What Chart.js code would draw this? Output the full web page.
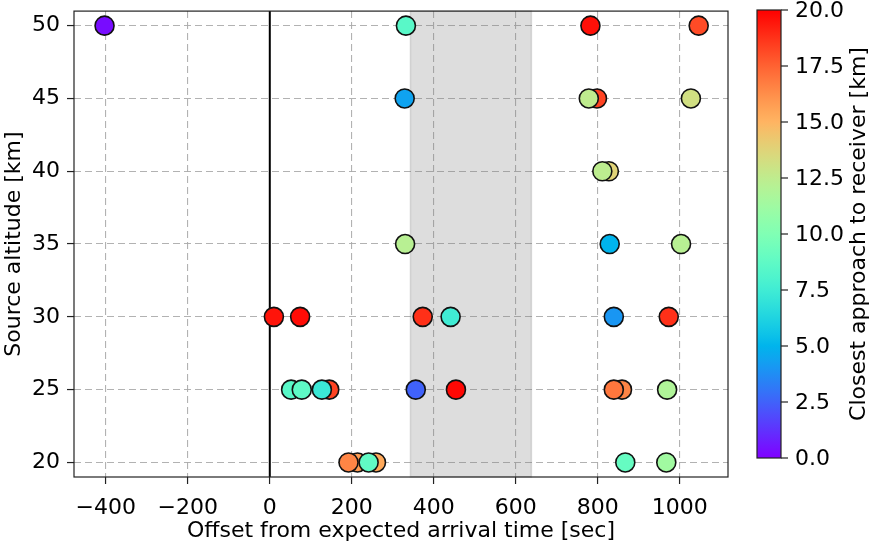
<!DOCTYPE html>
<html>
<head>
<meta charset="utf-8">
<script src="https://cdn.jsdelivr.net/npm/chart.js@4"></script>
<style>
  html, body { margin: 0; padding: 0; background: #fff; }
  #wrap { width: 874px; height: 544px; }
</style>
</head>
<body>
<div id="wrap"><canvas id="arrivalChart"></canvas></div>
<script>
// offset from expected arrival [sec], source altitude [km], closest approach [km]
const offsets   = [-403, 332, 782, 1046,
                   329, 798, 778, 1027,
                   827, 811,
                   330, 829, 1003,
                   10, 74, 373, 441, 839, 973,
                   52, 78, 145, 127, 356, 454, 859, 839, 969,
                   214, 192, 259, 241, 867, 967];
const altitudes = [50, 50, 50, 50,
                   45, 45, 45, 45,
                   40, 40,
                   35, 35, 35,
                   30, 30, 30, 30, 30, 30,
                   25, 25, 25, 25, 25, 25, 25, 25, 25,
                   20, 20, 20, 20, 20, 20];
const approach  = [0.3, 8.5, 19.6, 18.1,
                   4.4, 18.3, 12.5, 13.2,
                   13.8, 12.4,
                   12.2, 5.0, 12.2,
                   19.5, 19.7, 18.8, 7.5, 4.0, 18.8,
                   8.5, 8.7, 18.3, 7.3, 2.5, 19.8, 16.5, 16.9, 11.9,
                   15.8, 16.5, 15.4, 8.8, 9.0, 11.3];

const xTicks  = [-400, -200, 0, 200, 400, 600, 800, 1000];
const yTicks  = [20, 25, 30, 35, 40, 45, 50];
const cbTicks = [0, 2.5, 5, 7.5, 10, 12.5, 15, 17.5, 20];
const xRange  = [-477.5, 1117.5];
const yRange  = [19, 51];
const cbRange = [0, 20];
const band    = [343, 638];

// matplotlib "rainbow" colormap
function rainbow(t) {
    t = Math.min(1, Math.max(0, t));
    const r = Math.min(1, Math.abs(2 * t - 0.5));
    const g = Math.sin(Math.PI * t);
    const b = Math.cos(Math.PI * t / 2);
    return `rgb(${Math.round(r * 255)},${Math.round(g * 255)},${Math.round(b * 255)})`;
}

const points = offsets.map((x, i) => ({ x: x, y: altitudes[i] }));
const colors = approach.map(v => rainbow((v - cbRange[0]) / (cbRange[1] - cbRange[0])));

const decor = {
    id: "decor",
    beforeDatasetsDraw(chart) {
        const { ctx, chartArea: a, scales: { x } } = chart;
        ctx.save();
        const b0 = x.getPixelForValue(band[0]);
        const b1 = x.getPixelForValue(band[1]);
        ctx.fillStyle = "rgba(128,128,128,0.27)";
        ctx.fillRect(b0, a.top, b1 - b0, a.bottom - a.top);
        ctx.strokeStyle = "rgba(128,128,128,0.25)";
        ctx.lineWidth = 1.5;
        ctx.strokeRect(b0, a.top, b1 - b0, a.bottom - a.top);
        const z = x.getPixelForValue(0);
        ctx.strokeStyle = "#000";
        ctx.lineWidth = 2;
        ctx.beginPath();
        ctx.moveTo(z, a.top);
        ctx.lineTo(z, a.bottom);
        ctx.stroke();
        ctx.restore();
    },
    afterDraw(chart) {
        const { ctx, chartArea: a } = chart;
        ctx.save();
        // axes frame
        ctx.strokeStyle = "#222";
        ctx.lineWidth = 1.2;
        ctx.strokeRect(a.left, a.top, a.right - a.left, a.bottom - a.top);

        // colorbar
        const cx0 = 757, cx1 = 781, cy0 = 10, cy1 = 458;
        const grad = ctx.createLinearGradient(0, cy1, 0, cy0);
        for (let i = 0; i <= 40; i++) grad.addColorStop(i / 40, rainbow(i / 40));
        ctx.fillStyle = grad;
        ctx.fillRect(cx0, cy0, cx1 - cx0, cy1 - cy0);
        ctx.strokeStyle = "#222";
        ctx.strokeRect(cx0, cy0, cx1 - cx0, cy1 - cy0);

        ctx.fillStyle = "#000";
        ctx.font = "22px 'DejaVu Sans'";
        ctx.textAlign = "left";
        ctx.textBaseline = "middle";
        ctx.lineWidth = 1.2;
        cbTicks.forEach(v => {
            const py = cy1 - (v - cbRange[0]) / (cbRange[1] - cbRange[0]) * (cy1 - cy0);
            ctx.beginPath();
            ctx.moveTo(cx1, py);
            ctx.lineTo(cx1 + 7, py);
            ctx.stroke();
            ctx.fillText(v.toFixed(1), cx1 + 14, py + 1);
        });

        ctx.translate(859, (cy0 + cy1) / 2);
        ctx.rotate(-Math.PI / 2);
        ctx.textAlign = "center";
        ctx.fillText("Closest approach to receiver [km]", 0, 0);
        ctx.restore();
    }
};

Chart.defaults.font.family = "'DejaVu Sans'";
Chart.defaults.font.size = 22;
Chart.defaults.color = "#000";

const gridStyle = {
    color: "rgba(170,170,170,0.9)",
    lineWidth: 1.1,
    tickColor: "#222",
    tickLength: 7,
    tickWidth: 1.2,
    tickBorderDash: []
};

new Chart(document.getElementById("arrivalChart"), {
    type: "scatter",
    data: {
        datasets: [{
            data: points,
            pointRadius: 9.5,
            pointBackgroundColor: colors,
            pointBorderColor: "#111",
            pointBorderWidth: 1.6
        }]
    },
    options: {
        responsive: true,
        maintainAspectRatio: false,
        animation: false,
        events: [],
        layout: { padding: { left: 0, right: 146, top: 10, bottom: 0 } },
        plugins: {
            legend: { display: false },
            tooltip: { enabled: false }
        },
        scales: {
            x: {
                type: "linear",
                min: xRange[0],
                max: xRange[1],
                afterBuildTicks: s => { s.ticks = xTicks.map(v => ({ value: v })); },
                afterFit: s => { s.height = 67; s.paddingLeft = 0; s.paddingRight = 0; },
                ticks: { padding: 11, maxRotation: 0, callback: v => String(v).replace("-", "\u2212") },
                grid: gridStyle,
                border: { display: false, dash: [7, 4] },
                title: {
                    display: true,
                    text: "Offset from expected arrival time [sec]",
                    padding: { top: 0, bottom: 0 }
                }
            },
            y: {
                type: "linear",
                min: yRange[0],
                max: yRange[1],
                afterBuildTicks: s => { s.ticks = yTicks.map(v => ({ value: v })); },
                afterFit: s => { s.width = 74; s.paddingTop = 0; s.paddingBottom = 0; },
                ticks: { padding: 7 },
                grid: gridStyle,
                border: { display: false, dash: [7, 4] },
                title: {
                    display: true,
                    text: "Source altitude [km]",
                    padding: { top: 1, bottom: 0 }
                }
            }
        }
    },
    plugins: [decor]
});
</script>
</body>
</html>
